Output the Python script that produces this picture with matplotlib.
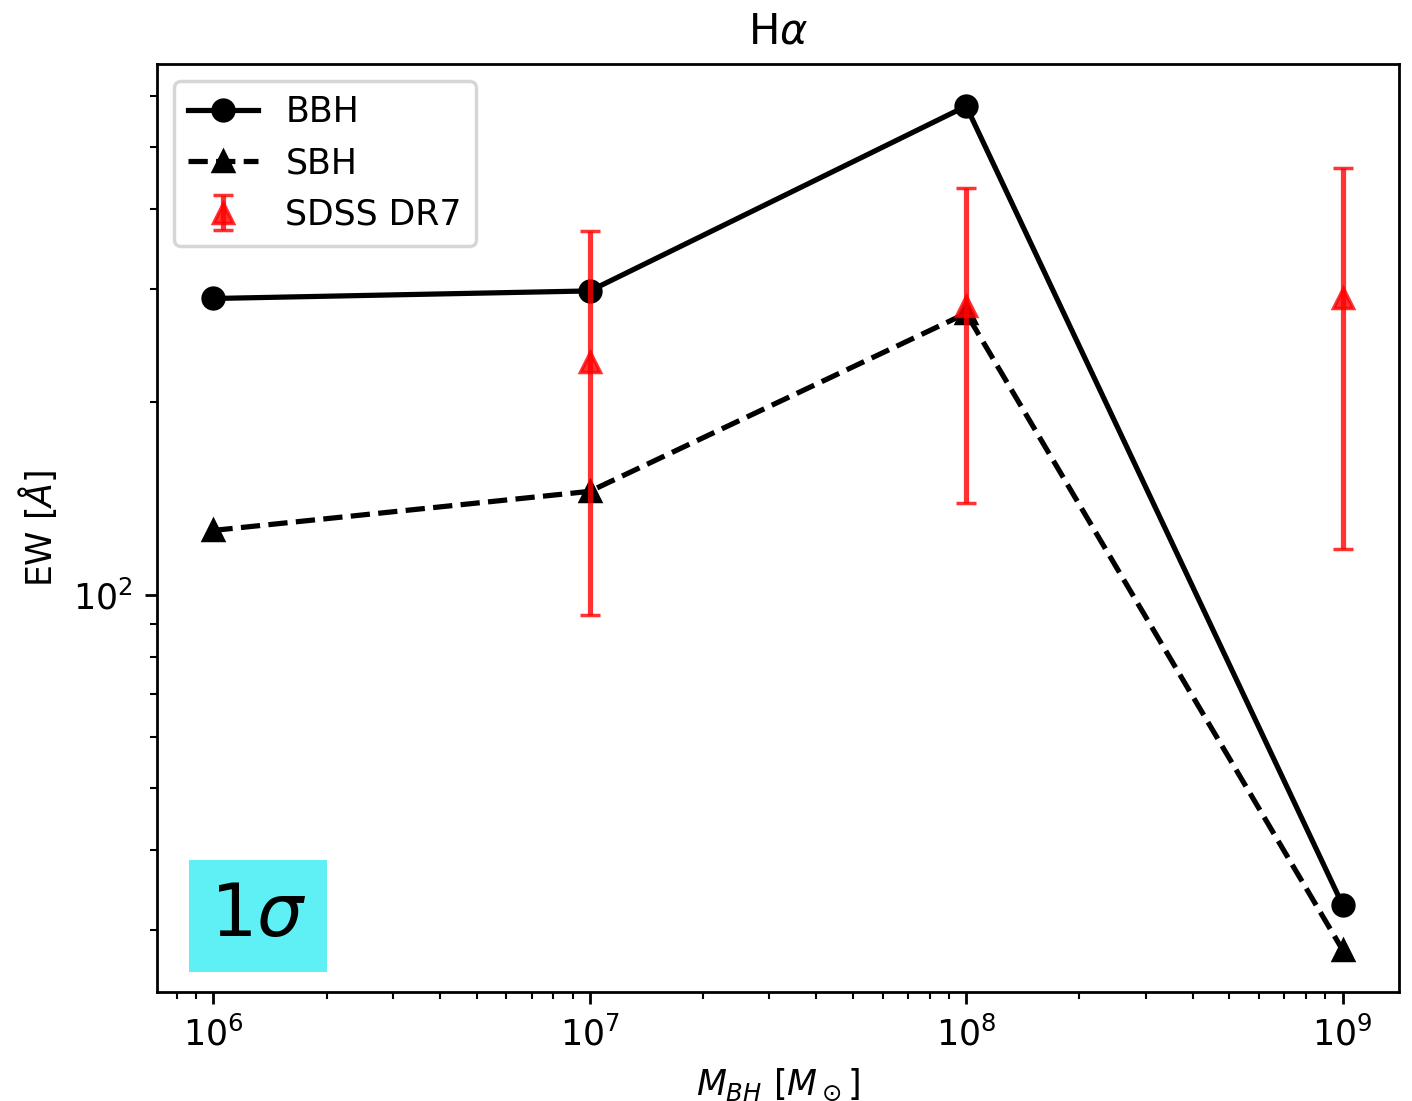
import matplotlib
matplotlib.use('Agg')
import matplotlib.pyplot as plt
import numpy as np

# black hole masses [M_sun]
m_bh = [1e6, 1e7, 1e8, 1e9]

# H-alpha equivalent widths [Angstrom]
ew_bbh = [290, 298, 579, 32.8]
ew_sbh = [126, 145, 275, 27.9]

# SDSS DR7 median and spread
m_sdss = [1e7, 1e8, 1e9]
ew_sdss = [231, 282, 291]
ew_sdss_hi = [369, 431, 463]
ew_sdss_lo = [93.1, 139, 118]

fig = plt.figure(figsize=(5.648, 4.404), dpi=250)
ax = fig.add_axes([0.1112, 0.099, 0.8796, 0.8429])

ax.plot(m_bh, ew_bbh, 'k-o', label='BBH')
ax.plot(m_bh, ew_sbh, 'k--^', label='SBH')

yerr = [np.array(ew_sdss) - np.array(ew_sdss_lo),
        np.array(ew_sdss_hi) - np.array(ew_sdss)]
ax.errorbar(m_sdss, ew_sdss, yerr=yerr, fmt='^', color='red', alpha=0.8,
            capsize=3, label='SDSS DR7', zorder=3)

ax.set_xscale('log')
ax.set_yscale('log')

ax.set_title(r'H$\alpha$')
ax.set_xlabel(r'$M_{BH}\ [M_\odot]$')
ax.set_ylabel(r'EW [$\AA$]')

ax.text(0.0813, 0.082, r'$1\sigma$', transform=ax.transAxes, fontsize=21,
        ha='center', va='center',
        bbox=dict(boxstyle='square', facecolor='#5EF0F4', edgecolor='none', pad=0.28))

ax.legend(loc='upper left')

plt.savefig('out.png', dpi=250)
